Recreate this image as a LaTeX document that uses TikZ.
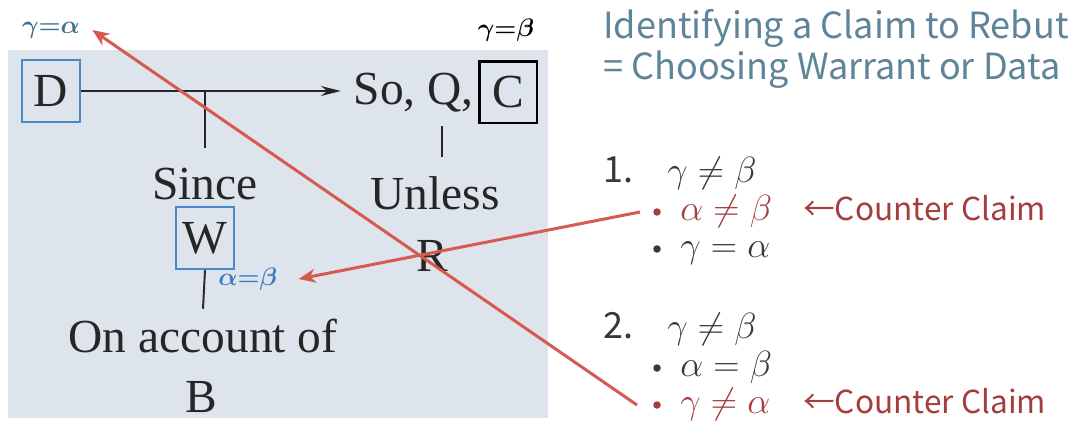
\documentclass[tikz,border=0pt]{standalone}
\usepackage{amsmath}
\usepackage{bm}
\usepackage{fontspec}
\usetikzlibrary{arrows.meta, positioning}
\newfontfamily\slidefont{Noto Sans CJK JP}
\newfontfamily\bookfont{Liberation Serif}
\definecolor{paper}{HTML}{DDE4EB}
\definecolor{boxblue}{HTML}{4A88C7}
\definecolor{ink}{HTML}{262626}
\definecolor{listink}{HTML}{383838}
\definecolor{rebut}{HTML}{D65A4F}
\definecolor{counter}{HTML}{A53D3D}
\definecolor{slate}{HTML}{5D8499}
\definecolor{tagteal}{HTML}{41708F}
\definecolor{tagblue}{HTML}{3C7CC2}

\begin{document}
\begin{tikzpicture}[
    x=0.02cm, y=-0.02cm,
    every node/.style={inner sep=0pt},
    book/.style={font=\bookfont\fontsize{27}{31}\selectfont, text=ink},
    part/.style={
        book,
        rectangle,
        draw=boxblue,
        line width=1.4pt,
        minimum width=1.16cm,
        minimum height=1.24cm
    },
    tag/.style={font=\fontsize{14}{16}\selectfont},
    slide/.style={font=\slidefont\fontsize{20.5}{25}\selectfont, anchor=base west},
    note/.style={font=\slidefont\fontsize{18}{22}\selectfont, anchor=base west},
    item/.style={font=\fontsize{20}{24}\selectfont, anchor=base west, text=listink},
    dot/.style={circle, minimum size=0.15cm, fill=listink},
    link/.style={line width=1.1pt, color=ink},
    rebutarrow/.style={line width=1.7pt, color=rebut, -{Stealth[length=3.4mm, width=2.8mm]}}
]
\useasboundingbox (0,0) rectangle (1088,423);
\fill[paper] (8,50) rectangle (548,418);

% Toulmin layout (book photo)
\node[part] (data) at (51,91) {D};
\node[part, draw=black, line width=1.7pt] (claim) at (508,92) {C};
\node[book, anchor=base east] (soq) at (474,104) {So, Q,};
\node[book] (since) at (205,184) {Since};
\node[part] (warrant) at (205,238) {W};
\node[book] (account) at (203,336) {On account of};
\node[book] (backing) at (201,397) {B};
\node[book] (unless) at (435,193) {Unless};
\node[book] (rebuttal) at (432,256) {R};

\draw[link, -{Stealth[length=4mm, width=2mm]}] (data.east) -- ([xshift=-0.25cm]soq.west |- data.east);
\draw[link] (since.north |- data.east) -- ([yshift=0.4cm]since.north);
\draw[link] (warrant.south) -- ([yshift=0.2cm]account.north);
\path (unless.north |- soq.south) coordinate (qfoot);
\draw[link] ([shift={(7,14)}]qfoot) -- ([shift={(7,-19)}]unless.north);

% equality tags
\node[tag, text=tagteal] (ga) at (51,30) {$\bm{\gamma{=}\alpha}$};
\node[tag] (gb) at (506,30) {$\bm{\gamma{=}\beta}$};
\node[tag, text=tagblue, anchor=west] (ab) at (218,279) {$\bm{\alpha{=}\beta}$};

% slide text
\node[slide, text=slate] (title) at (603,38) {Identifying a Claim to Rebut};
\node[slide, text=slate] (subtitle) at (603,79) {= Choosing Warrant or Data};

\node[slide, text=listink] (one) at (603,182) {1.};
\node[item] (oneclaim) at (667,182) {$\gamma \neq \beta$};
\node[dot, fill=counter] (bulA) at (657,212) {};
\node[item, text=counter] (oneA) at (680,220) {$\alpha \neq \beta$};
\node[note, text=counter] (ccA) at (803,220) {←Counter Claim};
\node[dot] (bulB) at (657,249) {};
\node[item] (oneB) at (680,257) {$\gamma = \alpha$};

\node[slide, text=listink] (two) at (603,338) {2.};
\node[item] (twoclaim) at (667,338) {$\gamma \neq \beta$};
\node[dot] (bulC) at (657,368) {};
\node[item] (twoA) at (680,376) {$\alpha = \beta$};
\node[dot, fill=counter] (bulD) at (657,405) {};
\node[item, text=counter] (twoB) at (680,413) {$\gamma \neq \alpha$};
\node[note, text=counter] (ccB) at (803,413) {←Counter Claim};

% rebuttal arrows
\draw[rebutarrow] ([xshift=-0.34cm]bulA.center) -- ([xshift=0.42cm]ab.east);
\draw[rebutarrow] ([xshift=-0.4cm]bulD.center) -- ([xshift=0.24cm]ga.east);

\end{tikzpicture}
\end{document}
